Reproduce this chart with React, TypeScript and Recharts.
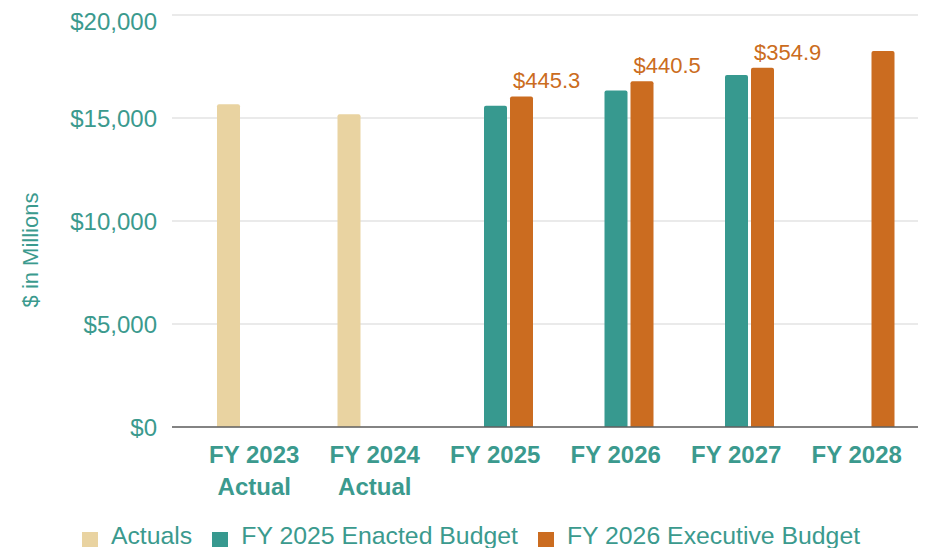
import React from "react";
import { BarChart, Bar, XAxis, YAxis, CartesianGrid, Legend, LabelList } from "recharts";

const categories = ["FY 2023|Actual", "FY 2024|Actual", "FY 2025", "FY 2026", "FY 2027", "FY 2028"];
const actuals: (number | null)[] = [15670, 15180, null, null, null, null];
const enacted: (number | null)[] = [null, null, 15600, 16340, 17090, null];
const executive: (number | null)[] = [null, null, 16045, 16781, 17445, 18250];
const execLabels: (string | null)[] = [null, null, "$445.3", "$440.5", "$354.9", null];
const yTicks = [0, 5000, 10000, 15000, 20000];

const TEAL_TEXT = "#3b9a8e";
const BEIGE = "#e9d3a1";
const TEAL = "#37998f";
const ORANGE = "#cb6c20";
const FONT = "'Liberation Sans', Arial, sans-serif";

const data = categories.map((c, i) => ({
  name: c,
  actuals: actuals[i],
  enacted: enacted[i],
  executive: executive[i],
  label: execLabels[i],
}));

const XTick = (props: any) => {
  const { x, y, payload } = props;
  const lines = String(payload.value).split("|");
  return (
    <text x={x} y={y} textAnchor="middle" fill={TEAL_TEXT} fontFamily={FONT} fontSize={24} fontWeight="bold">
      {lines.map((l, i) => (
        <tspan key={i} x={x} dy={i === 0 ? 36 : 32}>
          {l}
        </tspan>
      ))}
    </text>
  );
};

const ExecLabel = (props: any) => {
  const { x, y, value } = props;
  if (!value) return null;
  return (
    <text x={Number(x) + 3} y={Number(y) - 8} fill={ORANGE} fontFamily={FONT} fontSize={22}>
      {value}
    </text>
  );
};

const LegendContent = () => {
  const items = [
    { label: "Actuals", color: BEIGE },
    { label: "FY 2025 Enacted Budget", color: TEAL },
    { label: "FY 2026 Executive Budget", color: ORANGE },
  ];
  return (
    <div
      style={{
        display: "flex",
        justifyContent: "center",
        paddingTop: 6,
        height: 34,
        fontFamily: FONT,
        fontSize: 24.8,
        color: TEAL_TEXT,
        paddingLeft: 8,
      }}
    >
      {items.map((it, i) => (
        <div key={i} style={{ display: "flex", alignItems: "center", marginLeft: i === 0 ? 0 : 20, height: 28 }}>
          <div style={{ width: 16, height: 15, background: it.color, marginRight: 13, marginTop: 6 }} />
          <span style={{ lineHeight: "28px", whiteSpace: "nowrap" }}>{it.label}</span>
        </div>
      ))}
    </div>
  );
};

export default function App() {
  return (
    <BarChart
      width={918}
      height={548}
      data={data}
      margin={{ top: 7, right: 0, bottom: 0, left: 0 }}
      barSize={23}
      barGap={3}
    >
      <CartesianGrid vertical={false} stroke="#d6d6d6" strokeWidth={1.2} />
      <XAxis
        dataKey="name"
        height={89}
        tick={<XTick />}
        tickLine={false}
        tickSize={0}
        tickMargin={0}
        axisLine={{ stroke: "#606060", strokeWidth: 1.4 }}
        padding={{ left: 22, right: 9 }}
        interval={0}
      />
      <YAxis
        width={164}
        domain={[0, 20000]}
        ticks={yTicks}
        tickFormatter={(v: number) => "$" + v.toLocaleString("en-US")}
        tick={{ fill: TEAL_TEXT, fontSize: 24, fontFamily: FONT }}
        tickLine={false}
        axisLine={false}
        tickSize={0}
        tickMargin={15}
        label={(p: any) => {
          const vb = p.viewBox || {};
          const cx = (vb.x || 0) + 22;
          const cy = (vb.y || 0) + (vb.height || 0) / 2 + 29;
          return (
            <text
              x={cx}
              y={cy}
              transform={`rotate(-90 ${cx} ${cy})`}
              textAnchor="middle"
              dominantBaseline="central"
              fill={TEAL_TEXT}
              fontFamily={FONT}
              fontSize={22}
            >
              $ in Millions
            </text>
          );
        }}
      />
      <Legend verticalAlign="bottom" height={40} content={<LegendContent />} />
      <Bar dataKey="actuals" name="Actuals" fill={BEIGE} radius={[2, 2, 0, 0]} isAnimationActive={false} />
      <Bar dataKey="enacted" name="FY 2025 Enacted Budget" fill={TEAL} radius={[2, 2, 0, 0]} isAnimationActive={false} />
      <Bar dataKey="executive" name="FY 2026 Executive Budget" fill={ORANGE} radius={[2, 2, 0, 0]} isAnimationActive={false}>
        <LabelList dataKey="label" content={<ExecLabel />} />
      </Bar>
    </BarChart>
  );
}
